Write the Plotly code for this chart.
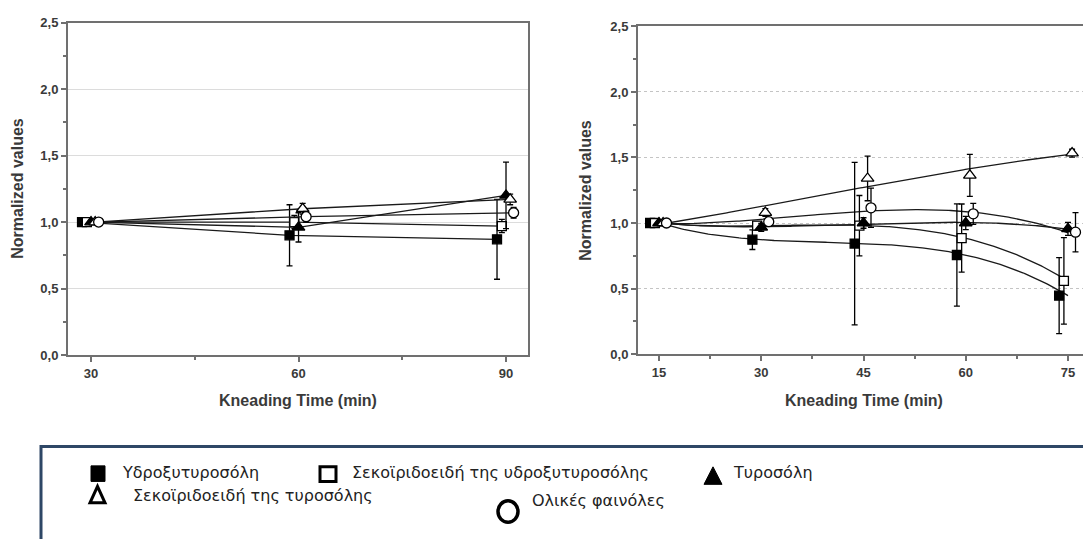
import numpy as np
import plotly.graph_objects as go

# ---------------- data ----------------
time_left = [30, 60, 90]
time_right = [15, 30, 45, 60, 75]

series_names = ["Υδροξυτυροσόλη", "Σεκοϊριδοειδή της υδροξυτυροσόλης", "Τυροσόλη",
                "Σεκοϊριδοειδή της τυροσόλης", "Ολικές φαινόλες"]

# left panel values / errors
left_htyr = [1.00, 0.90, 0.87]
left_htyr_err = [0.0, 0.23, 0.30]
left_htyr_sec = [1.00, 1.00, 0.97]
left_htyr_sec_err = [0.0, 0.05, 0.05]
left_tyr = [1.00, 0.96, 1.20]
left_tyr_err = [0.0, 0.11, 0.25]
left_tyr_sec = [1.00, 1.10, 1.17]
left_tyr_sec_err = [0.0, 0.04, 0.04]
left_total = [1.00, 1.04, 1.07]
left_total_err = [0.0, 0.04, 0.04]

# right panel values / errors
right_htyr = [1.00, 0.873, 0.843, 0.756, 0.446]
right_htyr_err = [0.0, 0.075, 0.62, 0.39, 0.29]
right_htyr_sec = [1.00, 0.98, 0.98, 0.885, 0.558]
right_htyr_sec_err = [0.0, 0.03, 0.23, 0.26, 0.33]
right_tyr = [1.00, 0.967, 1.00, 1.00, 0.955]
right_tyr_err = [0.0, 0.03, 0.04, 0.05, 0.05]
right_tyr_sec = [1.00, 1.08, 1.34, 1.364, 1.533]
right_tyr_sec_err = [0.0, 0.03, 0.17, 0.16, 0.03]
right_total = [1.00, 1.01, 1.116, 1.07, 0.93]
right_total_err = [0.0, 0.03, 0.15, 0.08, 0.15]

y_ticks = [0, 0.5, 1.0, 1.5, 2.0, 2.5]
y_ticktext = ["0,0", "0,5", "1,0", "1,5", "2,0", "2,5"]

# ---------------- styles ----------------
W, H = 1083, 539
def px(x):
    return x / W
def py(y):
    return 1 - y / H

DODGE = [-1.3, -0.6, 0.0, 0.6, 1.1]
SYMBOLS = ["square", "square", "triangle-up", "triangle-up", "circle"]
SIZES = [9, 9, 11, 11, 10]
FILL = ["black", "white", "black", "white", "white"]
LINE_C = "#1a1a1a"
AX_C = "#707070"
TXT_C = "#3a3a3a"

fig = go.Figure()

left_vals = [left_htyr, left_htyr_sec, left_tyr, left_tyr_sec, left_total]
left_errs = [left_htyr_err, left_htyr_sec_err, left_tyr_err, left_tyr_sec_err, left_total_err]
right_vals = [right_htyr, right_htyr_sec, right_tyr, right_tyr_sec, right_total]
right_errs = [right_htyr_err, right_htyr_sec_err, right_tyr_err, right_tyr_sec_err, right_total_err]

def marker(i):
    return dict(symbol=SYMBOLS[i], size=SIZES[i], color=FILL[i],
                line=dict(color="black", width=1.3))

# left panel: straight connecting lines
for i in range(5):
    xs = [t + DODGE[i] for t in time_left]
    fig.add_trace(go.Scatter(
        x=xs, y=left_vals[i], mode="lines+markers", name=series_names[i],
        line=dict(color=LINE_C, width=1.3), marker=marker(i),
        error_y=dict(type="data", array=left_errs[i], color="black", thickness=1.3, width=3),
        xaxis="x", yaxis="y", showlegend=False))

# right panel: smoothed curves (cubic fit of the points) + markers
for i in range(5):
    coef = np.polyfit(time_right, right_vals[i], 3)
    xf = np.linspace(time_right[0], time_right[-1], 200)
    fig.add_trace(go.Scatter(
        x=xf, y=np.polyval(coef, xf), mode="lines",
        line=dict(color=LINE_C, width=1.3), hoverinfo="skip",
        xaxis="x2", yaxis="y2", showlegend=False))
for i in range(5):
    xs = [t + DODGE[i] for t in time_right]
    fig.add_trace(go.Scatter(
        x=xs, y=right_vals[i], mode="markers", name=series_names[i],
        marker=marker(i),
        error_y=dict(type="data", array=right_errs[i], color="black", thickness=1.3, width=3),
        xaxis="x2", yaxis="y2", showlegend=False))

tickfont = dict(family="Liberation Sans", size=13, color=TXT_C, weight="bold")
common_x = dict(showline=True, linecolor=AX_C, linewidth=2, mirror=True,
                ticks="outside", ticklen=5, tickwidth=1.5, tickcolor=AX_C,
                showgrid=False, zeroline=False, tickfont=tickfont)
common_y = dict(range=[0, 2.5], tickvals=y_ticks, ticktext=y_ticktext,
                showline=True, linecolor=AX_C, linewidth=2,
                ticks="outside", ticklen=5, tickwidth=1.5, tickcolor=AX_C,
                zeroline=False, tickfont=tickfont,
                minor=dict(tickvals=[0.25, 0.75, 1.25, 1.75, 2.25], ticks="outside",
                           ticklen=3, tickcolor=AX_C, showgrid=False))

fig.update_layout(
    width=W, height=H, margin=dict(l=0, r=0, t=0, b=0),
    paper_bgcolor="white", plot_bgcolor="white",
    xaxis=dict(domain=[px(68), px(528)], range=[26.67, 93.18],
               tickvals=time_left, ticktext=[str(t) for t in time_left],
               minor=dict(tickvals=[45, 75], ticks="outside", ticklen=3, tickcolor=AX_C),
               anchor="y", **common_x),
    yaxis=dict(domain=[py(358), py(16)], anchor="x", mirror=True,
               showgrid=True, gridcolor="#dcdcdc", gridwidth=1, **common_y),
    xaxis2=dict(domain=[px(638), 1.0], range=[11.92, 77.2],
                tickvals=time_right, ticktext=[str(t) for t in time_right],
                minor=dict(tickvals=[22.5, 37.5, 52.5, 67.5], ticks="outside", ticklen=3, tickcolor=AX_C),
                anchor="y2", **common_x),
    yaxis2=dict(domain=[py(357), py(20)], anchor="x2", mirror=False,
                showgrid=True, gridcolor="#c4c4c4", gridwidth=1, griddash="dot", **common_y),
)

title_font = dict(family="Liberation Sans", size=16, color=TXT_C, weight="bold")
annots = [
    dict(x=px(298), y=py(405), text="Kneading Time (min)"),
    dict(x=px(864), y=py(405), text="Kneading Time (min)"),
    dict(x=px(18), y=py(187), text="Normalized values", textangle=-90),
    dict(x=px(586), y=py(189), text="Normalized values", textangle=-90),
]
for a in annots:
    fig.add_annotation(xref="paper", yref="paper", showarrow=False,
                       xanchor="center", yanchor="middle", font=title_font, **a)

# ---------------- legend box ----------------
LEG_C = "#2e4766"
fig.add_shape(type="rect", xref="paper", yref="paper",
              x0=px(41), x1=px(1095), y0=py(560), y1=py(452),
              line=dict(color=LEG_C, width=3), fillcolor="rgba(0,0,0,0)")

sym_line = dict(color="black", width=3)
# filled square
fig.add_shape(type="rect", xref="paper", yref="paper", x0=px(91), x1=px(105), y0=py(488), y1=py(472),
              line=dict(color="black", width=1), fillcolor="black")
# open square
fig.add_shape(type="rect", xref="paper", yref="paper", x0=px(320), x1=px(336), y0=py(488), y1=py(473),
              line=sym_line, fillcolor="white")
# filled triangle
fig.add_shape(type="path", xref="paper", yref="paper",
              path=f"M {px(704)},{py(491)} L {px(722)},{py(491)} L {px(713)},{py(473)} Z",
              line=dict(color="black", width=1), fillcolor="black")
# open triangle
fig.add_shape(type="path", xref="paper", yref="paper",
              path=f"M {px(90)},{py(510)} L {px(105)},{py(510)} L {px(97.5)},{py(493)} Z",
              line=sym_line, fillcolor="white")
# open circle
fig.add_shape(type="circle", xref="paper", yref="paper", x0=px(498), x1=px(518), y0=py(530), y1=py(508),
              line=dict(color="black", width=3.5), fillcolor="white")

leg_font = dict(family="DejaVu Sans", size=16, color="#222222")
leg_items = [
    (120, 479, series_names[0]),
    (350, 479, series_names[1]),
    (731, 479, series_names[2]),
    (131, 502, series_names[3]),
    (530, 508, series_names[4]),
]
for x, y, t in leg_items:
    fig.add_annotation(xref="paper", yref="paper", x=px(x), y=py(y), text=t,
                       showarrow=False, xanchor="left", yanchor="middle", font=leg_font)

fig.write_html("out.html", config={"displayModeBar": False},
               post_script="document.body.style.margin='0px';document.body.style.overflow='hidden';")
